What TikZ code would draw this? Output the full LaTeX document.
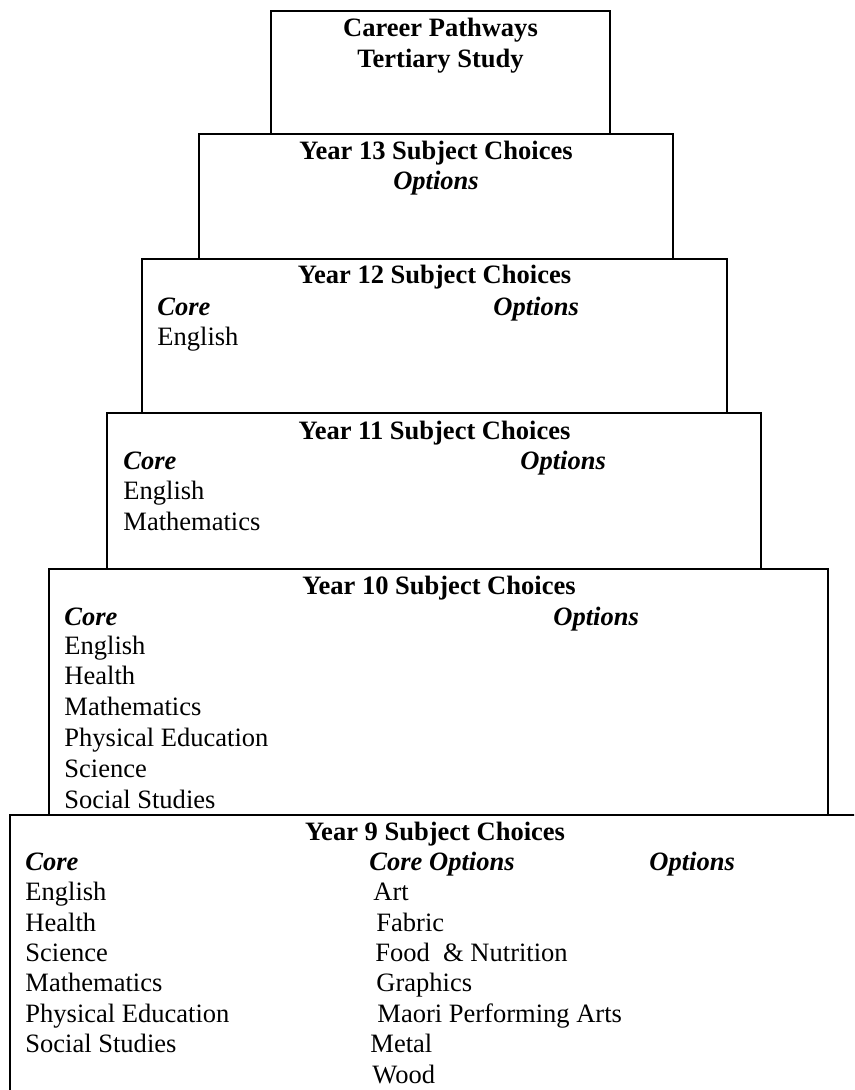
\documentclass[tikz,border=0pt]{standalone}
\usepackage{fontspec}
\setmainfont{Liberation Serif}
\begin{document}
\begin{tikzpicture}[x=0.4525pt,y=-0.4525pt,
  boxline/.style={line width=0.75pt, draw=black},
  txt/.style={inner sep=0pt, anchor=base west, font=\fontsize{12}{13.8}\selectfont},
  ttl/.style={inner sep=0pt, anchor=base, font=\fontsize{12}{13.8}\selectfont\bfseries},
  hdr/.style={inner sep=0pt, anchor=base west, font=\fontsize{12}{13.8}\selectfont\bfseries\itshape},
  hdrc/.style={inner sep=0pt, anchor=base, font=\fontsize{12}{13.8}\selectfont\bfseries\itshape}]
\useasboundingbox (0,0) rectangle (854,1090);
\clip (0,0) rectangle (854,1090);
\fill[white] (0,0) rectangle (854,1090);

% boxes
\draw[boxline] (271,11) rectangle (610,134);
\draw[boxline] (199,134) rectangle (673,259);
\draw[boxline] (142,259) rectangle (727,413);
\draw[boxline] (107,413) rectangle (761,569);
\draw[boxline] (49,569) rectangle (828,815);
\draw[boxline] (10,815) rectangle (900,1140);

% Career box
\node[ttl] (cp) at (440.5,37) {Career Pathways};
\node[ttl] (ts) at (440.5,68) {Tertiary Study};

% Year 13
\node[ttl] (y13) at (436,160) {Year 13 Subject Choices};
\node[hdrc] (y13o) at (436,190) {Options};

% Year 12
\node[ttl] (y12) at (434.5,284) {Year 12 Subject Choices};
\node[hdr] (y12c) at (157,315) {Core};
\node[hdr] (y12o) at (493,315) {Options};
\node[txt] (y12e) at (157,345) {English};

% Year 11
\node[ttl] (y11) at (434.5,439) {Year 11 Subject Choices};
\node[hdr] (y11c) at (123,469) {Core};
\node[hdr] (y11o) at (520,469) {Options};
\node[txt] (y11e) at (123,499) {English};
\node[txt] (y11m) at (123,530) {Mathematics};

% Year 10
\node[ttl] (y10) at (439,594) {Year 10 Subject Choices};
\node[hdr] (y10c) at (64,625) {Core};
\node[hdr] (y10o) at (553,625) {Options};
\node[txt] (y10a) at (64,654) {English};
\node[txt] (y10b) at (64,684) {Health};
\node[txt] (y10d) at (64,715) {Mathematics};
\node[txt] (y10e) at (64,746) {Physical Education};
\node[txt] (y10f) at (64,777) {Science};
\node[txt] (y10g) at (64,808) {Social Studies};

% Year 9
\node[ttl] (y9) at (435,840) {Year 9 Subject Choices};
\node[hdr] (y9c) at (25,870) {Core};
\node[hdr] (y9co) at (369,870) {Core Options};
\node[hdr] (y9o) at (649,870) {Options};
\node[txt] (y9a) at (25,900) {English};
\node[txt] (y9b) at (25,931) {Health};
\node[txt] (y9d) at (25,961) {Science};
\node[txt] (y9e) at (25,991) {Mathematics};
\node[txt] (y9f) at (25,1022) {Physical Education};
\node[txt] (y9g) at (25,1052) {Social Studies};
\node[txt] (y9oa) at (373,900) {Art};
\node[txt] (y9ob) at (376,931) {Fabric};
\node[txt] (y9oc) at (375,961) {Food~~\& Nutrition};
\node[txt] (y9od) at (376,991) {Graphics};
\node[txt] (y9oe) at (377,1022) {Maori Performing Arts};
\node[txt] (y9of) at (370,1052) {Metal};
\node[txt] (y9og) at (372,1083) {Wood};
\end{tikzpicture}
\end{document}
